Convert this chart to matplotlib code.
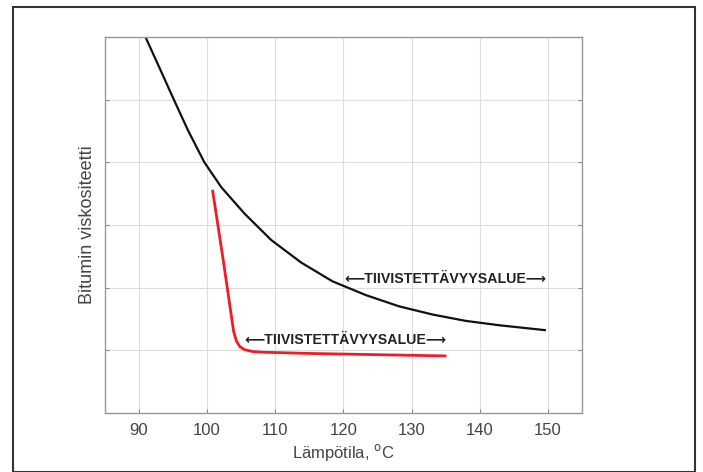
import matplotlib
matplotlib.use("Agg")
import matplotlib.pyplot as plt
from matplotlib.patches import Rectangle

plt.rcParams['font.family'] = ['Liberation Sans', 'DejaVu Sans']

# black curve: bitumen viscosity vs temperature
temp_black = [90.96, 92.8, 95.0, 97.2, 99.6, 102.1, 105.5, 109.4, 113.8, 118.4, 123.3, 128.2, 133.1, 137.9, 142.8, 149.7]
visc_black = [6.0, 5.56, 5.03, 4.51, 4.0, 3.6, 3.18, 2.76, 2.40, 2.10, 1.88, 1.70, 1.57, 1.47, 1.40, 1.32]

# red curve
temp_red = [100.8, 102.4, 103.9, 104.3, 104.8, 105.5, 106.7, 108.0, 115.0, 125.0, 135.1]
visc_red = [3.56, 2.42, 1.30, 1.15, 1.06, 1.01, 0.98, 0.97, 0.95, 0.93, 0.91]

x_ticks = [90, 100, 110, 120, 130, 140, 150]
y_grid = [0, 1, 2, 3, 4, 5, 6]

label_text = "\u27f5TIIVISTETT\u00c4VYYSALUE\u27f6"

fig = plt.figure(figsize=(7.03, 4.72), dpi=100)
ax = fig.add_axes([0.149, 0.125, 0.679, 0.797])

ax.plot(temp_black, visc_black, color="#111111", lw=1.6, solid_capstyle="butt", solid_joinstyle="round")
ax.plot(temp_red, visc_red, color="#ee1c24", lw=2.0, solid_capstyle="butt", solid_joinstyle="round")

ax.text(120.1, 2.14, label_text, fontsize=10.2, fontweight="bold", color="#222222", va="center", ha="left")
ax.text(105.5, 1.17, label_text, fontsize=10.2, fontweight="bold", color="#222222", va="center", ha="left")

ax.set_xlim(85, 155)
ax.set_ylim(0, 6)
ax.set_xticks(x_ticks)
ax.set_yticks(y_grid)
ax.set_yticklabels([])
ax.grid(True, color="#dddddd", lw=0.8)
ax.set_axisbelow(True)
ax.tick_params(axis="x", direction="in", length=3, colors="#888888", labelcolor="#444444", labelsize=12, pad=7)
ax.tick_params(axis="y", direction="in", length=3, colors="#888888", right=True)
for s in ax.spines.values():
    s.set_color("#999999")
    s.set_linewidth(1.0)

ax.set_xlabel("L\u00e4mp\u00f6tila, $^{\\mathrm{o}}$C", fontsize=12, color="#444444", labelpad=3)
ax.set_ylabel("Bitumin viskositeetti", fontsize=13, color="#444444", labelpad=3)

# outer frame
fig.patches.append(Rectangle((13 / 703, 0.0), 682 / 703, (472 - 7) / 472,
                             transform=fig.transFigure, fill=False, edgecolor="#333333", lw=1.5))

fig.savefig("out.png", dpi=100)
